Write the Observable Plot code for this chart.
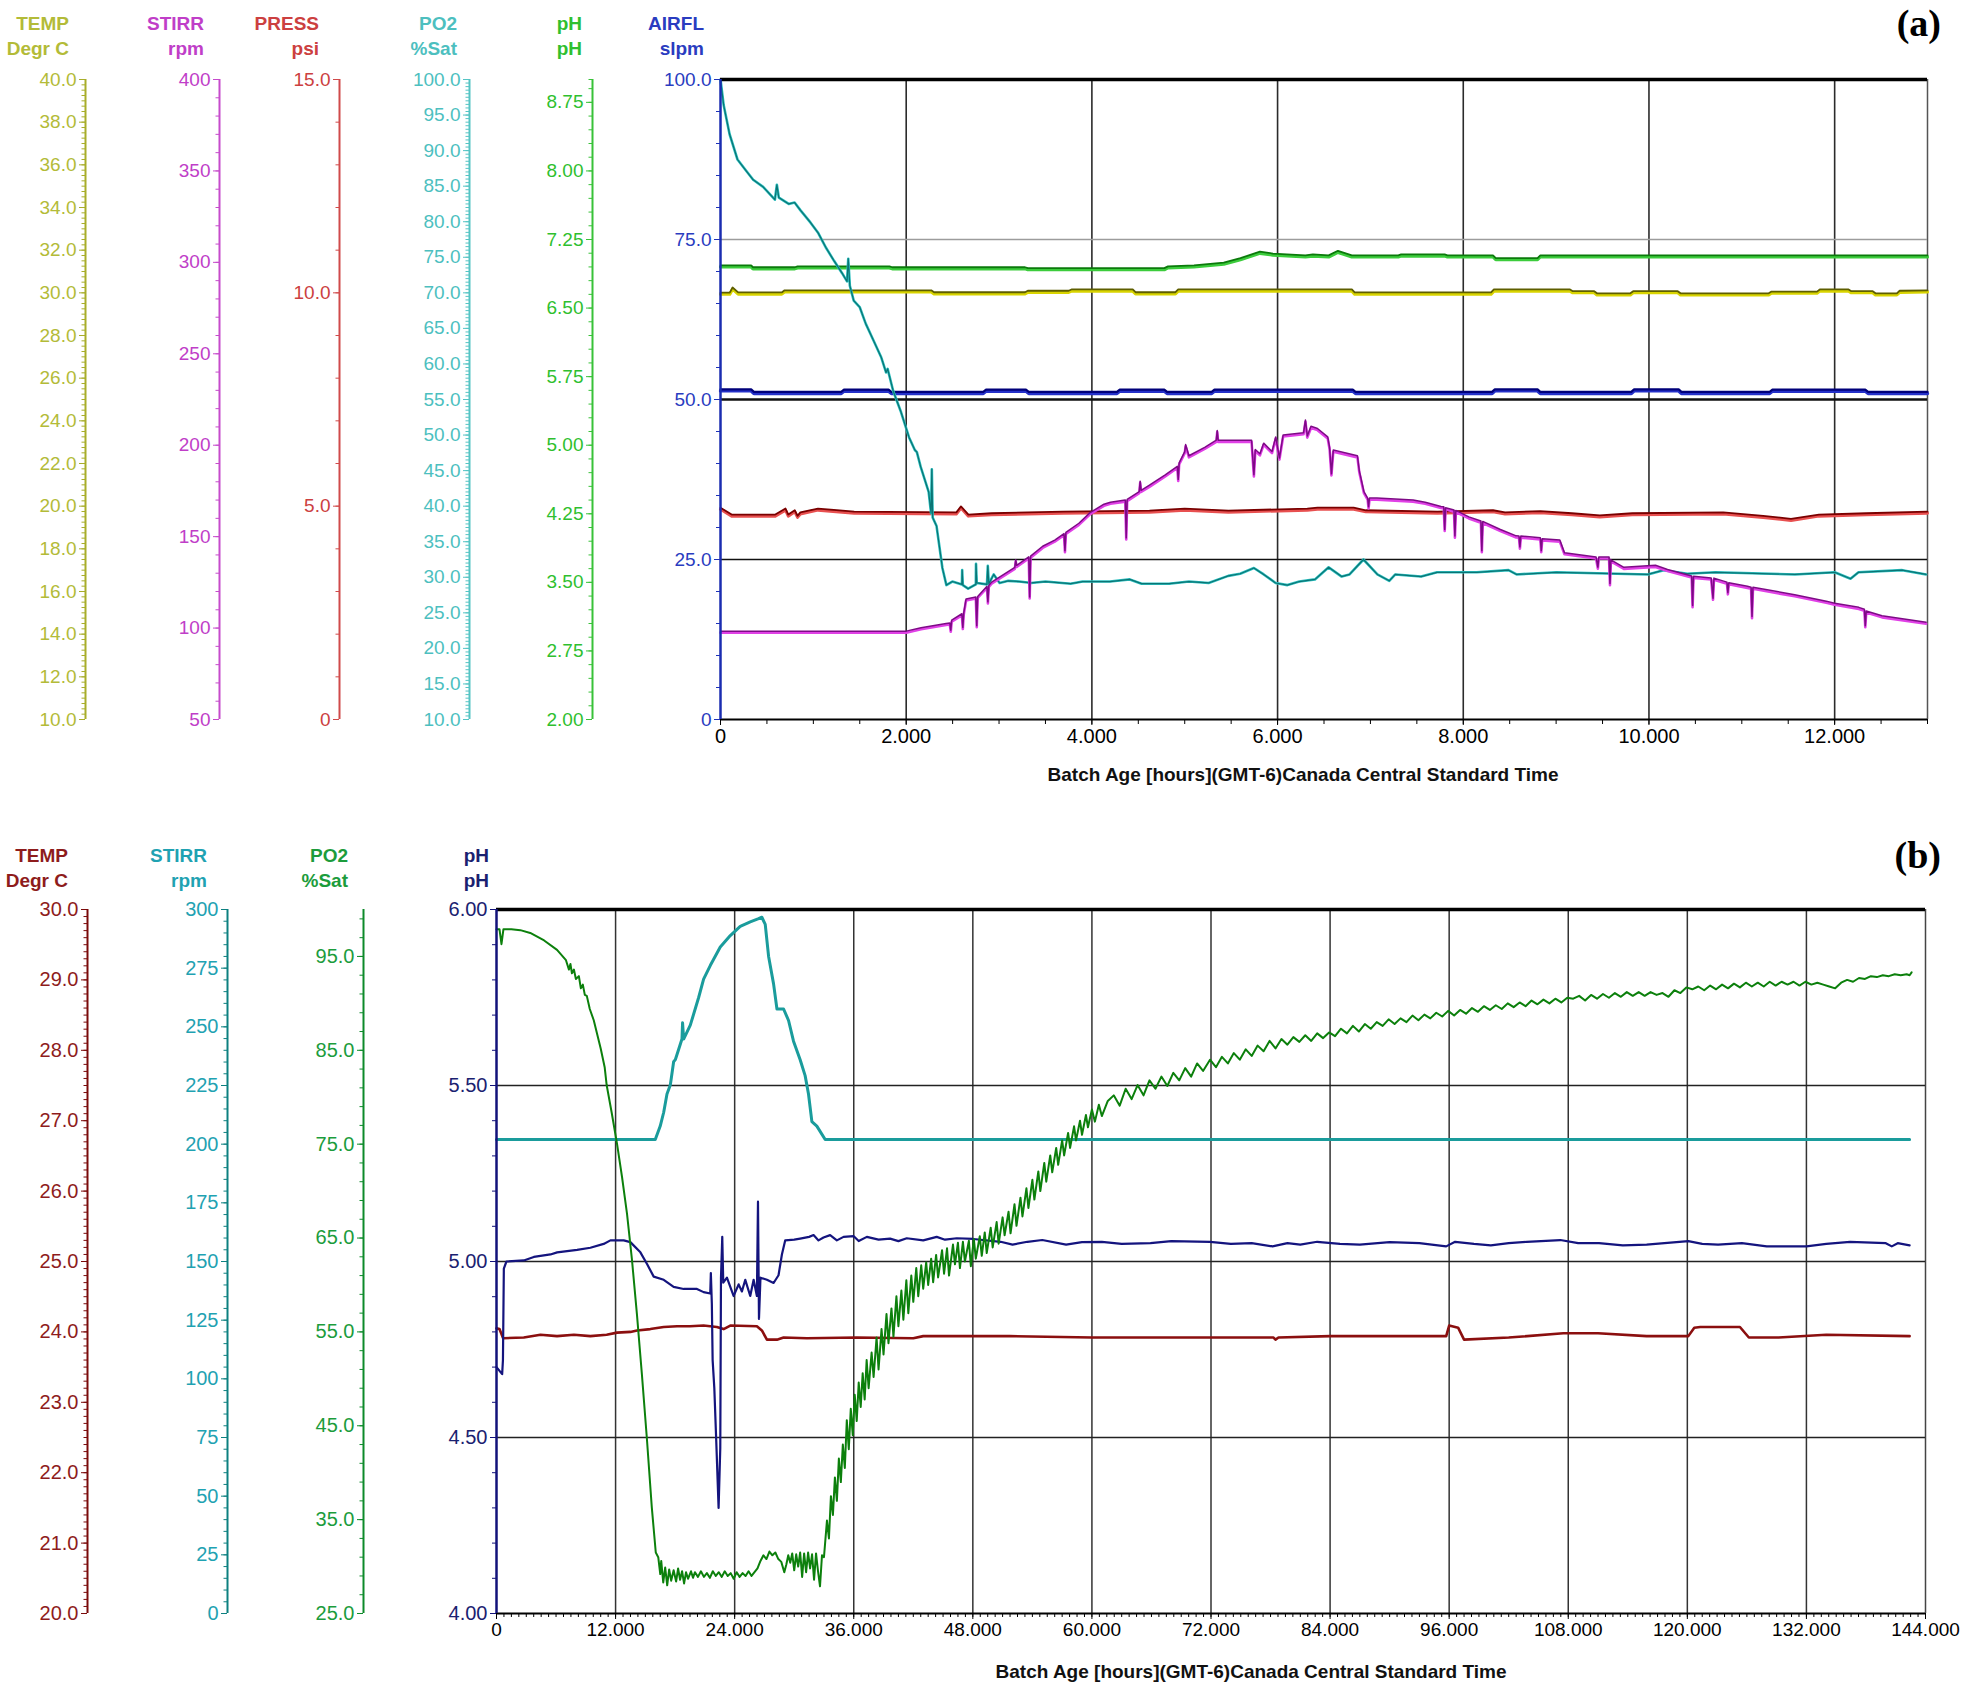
<!DOCTYPE html>
<html><head><meta charset="utf-8">
<script src="https://cdn.jsdelivr.net/npm/d3@7"></script>
<script src="https://cdn.jsdelivr.net/npm/@observablehq/plot@0.6"></script>
<style>
body{margin:0;background:#fff;}
#root{position:relative;width:1963px;height:1691px;background:#fff;overflow:hidden;font-family:"Liberation Sans",Arial,sans-serif;}
.t{position:absolute;white-space:nowrap;line-height:1;}
</style></head><body><div id="root"></div>
<script>
// ---------------- DATA : panel (a), time in hours ----------------
const a_PH = [[0,6.96],[0.33,6.96],[0.35,6.94],[0.8,6.94],[0.83,6.95],[1.82,6.95],[1.85,6.94],[3.28,6.94],[3.31,6.93],[4.78,6.93],[4.82,6.95],[5.1,6.96],[5.42,6.99],[5.6,7.04],[5.81,7.11],[5.95,7.09],[6.3,7.07],[6.38,7.08],[6.55,7.07],[6.65,7.12],[6.8,7.07],[7.3,7.07],[7.33,7.08],[7.8,7.08],[7.83,7.07],[8.32,7.07],[8.35,7.04],[8.8,7.04],[8.83,7.07],[13,7.07]];
const a_TEMP = [[0,29.98],[0.1,29.98],[0.13,30.22],[0.19,29.99],[0.66,29.99],[0.69,30.09],[2.27,30.09],[2.3,30.0],[3.28,30.0],[3.31,30.07],[3.75,30.07],[3.78,30.13],[4.44,30.13],[4.47,30.0],[4.9,30.0],[4.93,30.13],[6.8,30.13],[6.83,29.99],[8.3,29.99],[8.33,30.13],[9.15,30.13],[9.18,30.05],[9.41,30.05],[9.44,29.95],[9.8,29.95],[9.83,30.05],[10.31,30.05],[10.34,29.95],[11.29,29.95],[11.32,30.03],[11.81,30.03],[11.84,30.13],[12.15,30.13],[12.18,30.05],[12.41,30.05],[12.44,29.95],[12.67,29.95],[12.7,30.07],[13,30.09]];
const a_AIRFL = [[0,51.5],[0.33,51.5],[0.36,51.1],[1.3,51.1],[1.33,51.45],[1.81,51.45],[1.84,51.1],[2.83,51.1],[2.86,51.45],[3.29,51.45],[3.32,51.1],[4.27,51.1],[4.3,51.45],[4.78,51.45],[4.81,51.1],[5.29,51.1],[5.32,51.45],[6.81,51.45],[6.84,51.1],[8.31,51.1],[8.34,51.5],[8.8,51.5],[8.83,51.1],[9.81,51.1],[9.84,51.5],[10.32,51.5],[10.35,51.1],[11.3,51.1],[11.33,51.45],[12.33,51.45],[12.36,51.1],[13,51.1]];
const a_PRESS = [[0,4.95],[0.12,4.79],[0.59,4.79],[0.7,4.93],[0.73,4.79],[0.8,4.89],[0.83,4.76],[0.86,4.84],[1.05,4.93],[1.44,4.86],[2.54,4.84],[2.59,4.98],[2.67,4.79],[2.92,4.82],[3.69,4.86],[4.62,4.88],[5.0,4.93],[5.47,4.88],[6.32,4.93],[6.43,4.95],[6.82,4.95],[6.95,4.89],[7.72,4.86],[8.32,4.89],[8.45,4.84],[8.83,4.87],[9.17,4.82],[9.47,4.77],[9.82,4.82],[10.8,4.84],[11.23,4.76],[11.53,4.69],[11.83,4.79],[12.34,4.82],[13,4.86]];
const a_PO2 = [[0,100],[0.034,96.4],[0.098,92.3],[0.183,88.75],[0.268,87.3],[0.352,85.9],[0.459,84.9],[0.586,83.1],[0.607,85.2],[0.628,83.4],[0.735,82.5],[0.798,82.7],[0.862,81.6],[0.968,79.9],[1.053,78.4],[1.138,76.3],[1.223,74.5],[1.308,72.8],[1.363,71.6],[1.376,74.8],[1.393,71.0],[1.435,68.9],[1.499,68.0],[1.563,65.7],[1.648,63.3],[1.732,60.9],[1.783,58.8],[1.8,59.3],[1.86,56.2],[1.945,53.2],[2.03,49.7],[2.093,47.9],[2.115,47.6],[2.157,45.5],[2.242,42.0],[2.268,39.0],[2.276,45.2],[2.285,38.4],[2.327,37.2],[2.39,31.3],[2.433,28.9],[2.497,29.4],[2.6,29.0],[2.603,31.0],[2.61,28.9],[2.667,28.4],[2.75,29.0],[2.752,31.9],[2.76,29.2],[2.87,29.0],[2.879,31.6],[2.89,29.1],[2.943,30.4],[3.006,29.2],[3.1,29.5],[3.219,29.4],[3.346,29.2],[3.5,29.4],[3.771,29.1],[3.9,29.4],[4.195,29.4],[4.408,29.7],[4.535,29.1],[4.832,29.1],[5.045,29.4],[5.257,29.2],[5.469,30.2],[5.597,30.5],[5.745,31.3],[5.851,30.4],[5.979,29.2],[6.106,28.9],[6.234,29.4],[6.403,29.7],[6.55,31.4],[6.69,30.1],[6.775,30.4],[6.925,32.5],[7.075,30.4],[7.203,29.5],[7.268,30.4],[7.546,30.1],[7.717,30.7],[8.146,30.7],[8.488,31.0],[8.574,30.4],[9.002,30.7],[9.987,30.4],[10.158,31.0],[10.415,30.5],[10.715,30.7],[11.572,30.4],[12.0,30.7],[12.171,29.8],[12.257,30.7],[12.728,31.0],[12.985,30.4]];
const a_STIRR = [[0,98],[2.0,98],[2.16,99.9],[2.43,102.2],[2.47,102.5],[2.48,98.5],[2.49,104],[2.6,107.5],[2.61,100],[2.62,108],[2.645,115.6],[2.75,116.7],[2.76,101],[2.77,117],[2.87,122.5],[2.88,114],[2.89,123],[2.92,124.8],[3.17,132.9],[3.18,137],[3.19,134],[3.32,138.6],[3.33,116.7],[3.34,139],[3.47,144.4],[3.6,147.8],[3.7,151.3],[3.71,142],[3.72,152],[3.86,157],[3.98,162.8],[4.13,167.4],[4.2,168.5],[4.36,169.7],[4.37,149],[4.38,170],[4.51,174.3],[4.52,180],[4.53,175],[4.62,177.8],[4.79,183.5],[4.92,188.1],[4.93,181],[4.94,190],[5.0,196.2],[5.01,200],[5.045,193.9],[5.215,198.5],[5.34,202.4],[5.35,207.7],[5.36,202.4],[5.72,202.4],[5.745,183.5],[5.76,197.3],[5.81,195],[5.85,200.8],[5.94,196.2],[5.98,204.2],[6.02,192.7],[6.06,205.3],[6.28,206.5],[6.3,213.4],[6.32,204.7],[6.36,210],[6.43,208.8],[6.54,204.2],[6.56,198.5],[6.58,184],[6.6,197],[6.86,193.9],[6.88,185.8],[6.93,174.3],[6.97,170.8],[6.98,166],[6.99,170.8],[7.07,170.8],[7.46,169.7],[7.59,168.5],[7.76,166.2],[7.79,166],[7.8,153.6],[7.81,165.5],[7.9,164.2],[7.91,150],[7.92,164],[8.06,160.5],[8.19,158.2],[8.2,142],[8.21,158],[8.4,153.6],[8.57,150.1],[8.6,150],[8.61,144],[8.62,150],[8.83,149],[8.84,142],[8.85,148.5],[9.04,147.8],[9.09,140.9],[9.43,138.6],[9.45,133],[9.46,138.6],[9.57,138.6],[9.58,124],[9.59,137],[9.73,132.9],[10.07,134],[10.2,131.7],[10.46,128.2],[10.47,112],[10.48,128],[10.67,127.1],[10.69,116],[10.7,127],[10.84,124.8],[10.85,119],[10.86,124.5],[11.06,122.5],[11.1,122],[11.11,106],[11.12,122],[11.57,117.9],[11.91,114.4],[12.0,113.3],[12.26,111],[12.32,110],[12.33,101],[12.34,109],[12.51,106.4],[12.985,102.9]];

// ---------------- DATA : panel (b), time in hours ----------------
const b_PO2 = [[0,97.9],[0.3,97.9],[0.5,96.3],[0.7,97.9],[1.5,97.9],[2.4,97.8],[3.4,97.5],[4.8,96.7],[6.1,95.7],[7.0,94.6],[7.3,93.6],[7.45,94.2],[7.6,93.2],[7.8,93.6],[8.0,92.6],[8.3,92.9],[8.5,91.6],[8.7,92.0],[8.9,90.9],[9.1,90.8],[9.4,89.4],[9.8,88.2],[10.5,85.2],[10.9,83.2],[11.1,81.3],[11.6,78.4],[12.15,75.0],[12.65,71.5],[13.15,67.6],[13.65,62.7],[14.15,56.9],[14.65,50.5],[15.15,43.7],[15.65,36.3],[16.05,31.5],
[16.3,31.0],[16.5,29.2],[16.6,30.6],[16.8,28.3],[17.0,29.9],[17.2,28.0],[17.4,29.7],[17.6,28.5],[17.85,29.6],[18.1,28.4],[18.3,29.8],[18.5,28.6],[18.7,29.5],[18.9,28.2],[19.1,29.4],[19.3,28.7],[19.6,29.5],[19.8,28.8],[20.0,29.4],[20.3,28.9],[20.6,29.5],[20.9,28.9],[21.2,29.3],[21.5,28.8],[21.8,29.5],[22.1,29.0],[22.4,29.4],[22.7,28.9],[23.0,29.5],[23.3,29.0],[23.6,29.3],[23.9,28.7],[24.2,29.4],[24.5,28.9],[24.8,29.3],[25.1,29.0],[25.4,29.5],[25.7,29.0],[26.0,29.4],[26.3,29.8],[26.6,30.6],[26.9,31.2],[27.2,30.8],[27.5,31.6],[27.8,31.2],[28.1,31.5],[28.4,30.8],[28.7,30.5],[29.0,29.4],[29.2,30.2],[29.4,31.2],[29.6,30.4],[29.8,31.4],[30.0,29.6],[30.2,31.3],[30.4,30.0],[30.6,31.5],[30.8,28.9],[31.0,31.4],[31.2,29.4],[31.4,31.5],[31.6,29.8],[31.8,31.3],[32.0,28.6],[32.2,31.4],[32.4,29.5],[32.6,27.9],[32.8,31.2],[33.0,31.0],
[33.3,34.9],[33.5,33.0],[33.7,37.5],[33.9,35.5],[34.1,39.5],[34.3,37.0],[34.5,41.5],[34.7,39.0],[34.9,43.0],[35.1,40.5],[35.3,45.6],[35.5,42.5],[35.7,46.8],[35.9,44.0],[36.1,48.3],[36.3,45.5],[36.5,49.6],[36.7,47.0],[36.9,50.6],[37.1,47.8],[37.3,52.0],[37.5,49.0],[37.8,52.8],[38.0,50.2],[38.3,54.4],[38.5,51.0],[38.8,55.3],[39.0,52.6],[39.3,56.9],[39.5,53.8],[39.8,57.5],[40.0,54.5],[40.3,58.8],[40.5,55.6],[40.8,59.4],[41.0,56.3],[41.3,60.5],[41.5,57.0],[41.8,61.0],[42.0,58.2],[42.3,61.8],[42.5,58.8],[42.8,62.1],[43.0,59.6],[43.3,62.4],[43.5,60.0],[43.8,62.8],[44.0,60.3],[44.3,63.2],[44.5,60.8],[44.9,63.7],[45.1,61.2],[45.4,63.9],[45.6,61.0],[46.0,64.3],[46.2,62.2],[46.5,64.5],[46.7,61.8],[47.0,64.6],[47.2,62.5],[47.6,64.7],[47.8,62.0],[48.1,64.9],[48.3,62.8],[48.7,65.2],[48.9,63.1],[49.2,65.6],[49.4,63.4],[49.8,66.1],[50.0,64.0],[50.4,66.7],[50.6,64.4],[51.0,67.2],[51.2,65.3],[51.6,67.8],[51.8,65.5],[52.2,68.6],[52.4,66.3],[52.8,69.3],[53.0,67.3],[53.4,70.3],[53.6,68.2],[54.0,71.2],[54.2,69.1],[54.6,72.1],[54.8,70.0],[55.2,73.0],[55.4,71.0],[55.8,73.8],[56.0,72.0],[56.4,74.6],[56.6,72.8],[57.0,75.4],[57.2,73.8],[57.6,76.2],[57.8,74.6],[58.2,76.9],[58.4,75.4],[58.8,77.5],[59.0,76.0],[59.4,78.1],[59.6,76.8],[60.0,78.7],[60.3,77.4],[60.7,79.2],[61.0,78.0],
[61.6,79.6],[62.2,80.2],[62.8,79.1],[63.4,80.9],[64.0,79.8],[64.6,81.3],[65.2,80.2],[65.8,81.8],[66.4,80.9],[67.0,82.2],[67.6,81.2],[68.2,82.6],[68.8,81.8],[69.4,83.1],[70.0,82.2],[70.6,83.6],[71.2,82.8],[71.9,84.0],[72.5,83.2],[73.1,84.3],[73.7,83.6],[74.3,84.7],[74.9,84.0],[75.5,85.1],[76.1,84.4],[76.7,85.5],[77.3,84.9],[77.9,86.0],[78.5,85.2],[79.1,86.2],[79.7,85.6],[80.3,86.4],[80.9,85.9],[81.5,86.6],[82.1,86.0],[82.7,86.8],[83.3,86.3],[83.9,86.9],[84.5,86.5],[85.1,87.3],[85.7,86.8],[86.3,87.6],[86.9,87.0],[87.5,87.8],[88.1,87.3],[88.7,88.0],[89.3,87.6],[89.9,88.3],[90.5,87.8],[91.1,88.4],[91.7,88.0],[92.3,88.7],[92.9,88.2],[93.5,88.8],[94.1,88.4],[94.7,89.0],[95.3,88.6],[95.9,89.2],[96.5,88.7],[97.1,89.3],[97.7,88.9],[98.3,89.5],[98.9,89.1],[99.5,89.7],[100.1,89.3],[100.7,89.8],[101.3,89.4],[101.9,90.0],[102.5,89.6],[103.1,90.1],[103.7,89.7],[104.3,90.3],[104.9,89.9],[105.5,90.4],[106.1,90.0],[106.7,90.5],[107.3,90.1],[107.9,90.6],[108.5,90.5],[109.1,90.8],[109.7,90.3],[110.3,90.9],[110.9,90.5],[111.5,91.0],[112.1,90.6],[112.7,91.1],[113.3,90.7],[113.9,91.2],[114.5,90.8],[115.1,91.2],[115.7,90.8],[116.3,91.2],[116.9,90.9],[117.5,91.1],[118.1,90.7],[118.7,91.4],[119.3,91.1],[119.9,91.7],[120.5,91.5],[121.1,91.8],[121.7,91.4],[122.3,91.9],[122.9,91.5],[123.5,92.0],[124.1,91.6],[124.7,92.1],[125.3,91.7],[125.9,92.2],[126.5,91.8],[127.1,92.2],[127.7,91.8],[128.3,92.3],[128.9,91.9],[129.5,92.3],[130.1,92.0],[130.7,92.3],[131.3,91.9],[131.9,92.3],[132.5,92.0],[133.1,92.2],[133.7,92.0],[134.3,91.8],[134.9,91.6],[135.5,92.2],[136.1,92.5],[136.7,92.3],[137.3,92.7],[137.9,92.6],[138.5,92.9],[139.1,92.8],[139.7,93.0],[140.3,92.9],[140.9,93.1],[141.5,93.0],[142.1,93.1],[142.4,93.0],[142.6,93.3]];
const b_STIRR = [[0,202],[16.0,202],[16.5,207.7],[16.85,213.6],[17.18,221.4],[17.52,225.3],[17.85,235.1],[18.02,236],[18.69,244.8],[18.75,251.7],[18.86,244.8],[19.53,250.7],[20.37,262.5],[20.87,270.3],[21.54,276.1],[22.55,284],[23.56,288.9],[24.56,292.8],[25.57,294.7],[26.41,296.1],[26.74,296.7],[27.08,293.7],[27.42,280],[27.92,268.3],[28.26,257.6],[28.93,257.6],[29.43,252.7],[29.93,243.9],[30.6,236],[31.1,229.2],[31.44,221.4],[31.78,209.6],[32.28,207.7],[33.12,202],[142.4,202]];
const b_PH = [[0,4.70],[0.57,4.68],[0.65,4.72],[0.74,4.98],[1.0,5.0],[2.75,5.003],[3.76,5.013],[5.44,5.02],[6.11,5.026],[8.12,5.033],[9.46,5.039],[10.8,5.05],[11.48,5.06],[12.82,5.06],[13.49,5.055],[14.5,5.026],[15.17,4.993],[15.84,4.957],[16.85,4.948],[17.85,4.928],[18.86,4.922],[20.2,4.922],[20.87,4.913],[21.54,4.909],[21.6,4.967],[21.7,4.88],[21.78,4.72],[21.95,4.64],[22.15,4.485],[22.38,4.30],[22.55,4.47],[22.62,4.954],[22.75,5.07],[22.85,4.94],[23.22,4.954],[23.89,4.902],[24.4,4.935],[24.73,4.915],[25.07,4.948],[25.57,4.902],[25.91,4.948],[26.24,4.902],[26.35,5.17],[26.45,4.837],[26.6,4.954],[27.25,4.948],[27.92,4.939],[28.42,4.961],[28.76,5.02],[29.09,5.06],[30.0,5.062],[30.6,5.065],[31.5,5.07],[31.95,5.075],[32.45,5.06],[32.95,5.068],[33.62,5.075],[34.3,5.06],[34.97,5.07],[36.0,5.072],[36.5,5.058],[37.32,5.07],[38.5,5.062],[39.66,5.065],[40.5,5.058],[41.34,5.066],[43.0,5.06],[44.36,5.07],[45.2,5.062],[46.38,5.066],[48.05,5.064],[50.8,5.056],[52.0,5.048],[53.5,5.056],[55.0,5.061],[57.4,5.048],[59.0,5.055],[61.0,5.056],[63.0,5.05],[65.9,5.052],[68.0,5.058],[71.9,5.056],[74.0,5.05],[76.1,5.052],[78.2,5.043],[79.7,5.052],[81.0,5.048],[82.7,5.056],[85.0,5.05],[87.0,5.048],[90.0,5.055],[93.0,5.052],[95.7,5.043],[96.6,5.056],[98.5,5.05],[100.2,5.046],[102.0,5.052],[103.8,5.056],[107.2,5.061],[109.0,5.052],[111.1,5.052],[113.5,5.046],[115.9,5.048],[120.1,5.058],[121.5,5.05],[123.1,5.048],[125.5,5.052],[128.0,5.043],[132.0,5.043],[134.0,5.05],[136.4,5.056],[140.0,5.052],[140.6,5.043],[141.2,5.052],[142.4,5.046]];
const b_TEMP = [[0,24.05],[0.3,24.04],[0.67,23.91],[2.75,23.92],[4.43,23.96],[6.1,23.94],[7.8,23.96],[9.46,23.94],[11.1,23.96],[12.15,23.99],[13.5,24.0],[14.16,24.02],[15.5,24.04],[16.85,24.07],[18.2,24.08],[19.5,24.08],[20.87,24.09],[22.2,24.07],[22.89,24.04],[23.56,24.09],[26.24,24.08],[26.74,24.02],[27.25,23.89],[28.26,23.89],[28.93,23.92],[31.28,23.91],[36.3,23.92],[42.0,23.91],[43.0,23.94],[51.7,23.94],[60,23.92],[71.9,23.92],[78.3,23.92],[78.5,23.89],[78.8,23.92],[84,23.94],[95.7,23.94],[96.0,24.09],[96.9,24.06],[97.5,23.89],[102,23.92],[107.5,23.98],[111,23.98],[115.9,23.94],[120.1,23.94],[120.7,24.06],[121.3,24.07],[125.3,24.07],[126.2,23.92],[129.2,23.92],[134,23.96],[142.4,23.94]];

// ---------------- AXES / TICKS ----------------
const aX = {domain:[0,13], majors:[0,2,4,6,8,10,12], minors:d3.range(0,13.01,0.5)};
const bX = {domain:[0,144], majors:[0,12,24,36,48,60,72,84,96,108,120,132,144], minors:d3.range(0,144.01,0.75)};
const aAxes = {
  TEMP:{domain:[10,40], majors:d3.range(10,40.01,2), minors:d3.range(10,40.01,0.25)},
  STIRR:{domain:[50,400], majors:[50,100,150,200,250,300,350,400], minors:d3.range(50,400.1,10)},
  PRESS:{domain:[0,15], majors:[0,5,10,15], minors:d3.range(0,15.01,1)},
  PO2:{domain:[10,100], majors:d3.range(10,100.1,5), minors:d3.range(10,100.01,0.5)},
  pH:{domain:[2,9], majors:[2,2.75,3.5,4.25,5,5.75,6.5,7.25,8,8.75], minors:d3.range(2,8.95,0.15).concat([9])},
  AIRFL:{domain:[0,100], majors:[0,25,50,75,100], minors:d3.range(0,100.1,5)}
};
const bAxes = {
  TEMP:{domain:[20,30], majors:d3.range(20,30.01,1), minors:d3.range(20,30.001,0.1)},
  STIRR:{domain:[0,300], majors:d3.range(0,300.1,25), minors:d3.range(0,300.1,5)},
  PO2:{domain:[25,100], majors:[25,35,45,55,65,75,85,95], minors:d3.range(25,99.1,2)},
  pH:{domain:[4,6], majors:[4,4.5,5,5.5,6], minors:d3.range(4,6.001,0.1)}
};

const root = document.getElementById("root");
const FONT = '"Liberation Sans", Arial, sans-serif';
function place(el, left, top){ el.style.position="absolute"; el.style.left=left+"px"; el.style.top=top+"px"; root.appendChild(el); }
function label(text, x, baseline, size, color, opts={}){
  const d=document.createElement("div"); d.className="t"; d.textContent=text;
  d.style.fontSize=size+"px"; d.style.color=color; d.style.fontWeight=opts.bold===false?"normal":"bold";
  d.style.fontFamily=opts.family||FONT;
  const top = baseline - 0.8465*size;
  d.style.top=top+"px"; d.style.left=x+"px";
  d.style.transform = opts.align==="center" ? "translateX(-50%)" : (opts.align==="left" ? "none" : "translateX(-100%)");
  root.appendChild(d);
}
const f1 = d => d===0 ? "0" : d.toFixed(1);
const f1z = d => d.toFixed(1);
const f2 = d => d.toFixed(2);
const fi = d => String(Math.round(d));
const fX = d => d===0 ? "0" : d.toFixed(3);

function sideAxis(c){
  const mt=15, mb=15;
  const svg = Plot.plot({
    width:110, height:(c.bottom-c.top)+mt+mb,
    marginLeft:100, marginRight:9, marginTop:mt, marginBottom:mb,
    x:{domain:[0,1], axis:null}, y:{domain:c.ax.domain, axis:null},
    style:{background:"transparent", fontFamily:FONT, fontSize:c.fs+"px", overflow:"visible", maxWidth:"none"},
    marks:[
      Plot.ruleX([0], {stroke:c.line, strokeWidth:2}),
      Plot.axisY(c.ax.minors, {anchor:"left", tickSize:3.5, tickFormat:()=>"", stroke:c.line, label:null}),
      Plot.axisY(c.ax.majors, {anchor:"left", tickSize:6, tickPadding:3, tickFormat:c.fmt, stroke:c.line, fill:c.color, fontSize:c.fs, label:null})
    ]
  });
  place(svg, c.x-100, c.top-mt);
  label(c.t1, c.tx, c.tb1, c.tfs, c.color);
  label(c.t2, c.tx, c.tb2, c.tfs, c.color);
}

// ---------------- PANEL (a) ----------------
const A = {left:720, right:1927, top:79, bottom:719};
const aCol = {TEMP:"#b3bb38", STIRR:"#c03ec8", PRESS:"#cc4040", PO2:"#4dbfbf", pH:"#2fbf2f", AIRFL:"#2a3cc0"};
const aLine = {TEMP:"#a8ad2a", STIRR:"#c64bcc", PRESS:"#d04a4a", PO2:"#55c4c4", pH:"#38c238", AIRFL:"#1e32b8"};
[["TEMP",85,f1z,"TEMP","Degr C",69],["STIRR",219,fi,"STIRR","rpm",204],["PRESS",339,f1,"PRESS","psi",319],["PO2",469,f1z,"PO2","%Sat",457],["pH",592,f2,"pH","pH",582]].forEach(([k,x,fmt,t1,t2,tx])=>{
  sideAxis({x, top:A.top, bottom:A.bottom, ax:aAxes[k], fmt, color:aCol[k], line:aLine[k], fs:19, t1, t2, tx, tb1:30, tb2:55, tfs:19});
});
label("AIRFL", 704, 30, 19, aCol.AIRFL);
label("slpm", 704, 55, 19, aCol.AIRFL);

const toA = dom => d3.scaleLinear().domain(dom).range([0,100]);
const sA = {TEMP:toA(aAxes.TEMP.domain), STIRR:toA(aAxes.STIRR.domain), PRESS:toA(aAxes.PRESS.domain), PO2:toA(aAxes.PO2.domain), pH:toA(aAxes.pH.domain), AIRFL:toA(aAxes.AIRFL.domain)};
function twoTone(data, s, light, dark, wl, wd){
  return [
    Plot.line(data, {x:d=>d[0], y:d=>s(d[1]), stroke:light, strokeWidth:wl, dy:1}),
    Plot.line(data, {x:d=>d[0], y:d=>s(d[1]), stroke:dark, strokeWidth:wd, dy:-0.6})
  ];
}
const aMain = Plot.plot({
  width:(A.right-A.left)+110, height:(A.bottom-A.top)+50,
  marginLeft:80, marginRight:30, marginTop:10, marginBottom:40,
  x:{domain:aX.domain, axis:null}, y:{domain:[0,100], axis:null},
  style:{background:"transparent", fontFamily:FONT, fontSize:"19px", overflow:"visible", maxWidth:"none"},
  marks:[
    Plot.ruleX([2,4,6,8,10,12], {stroke:"#2b2b2b", strokeWidth:1.6}),
    Plot.ruleX([13], {stroke:"#555", strokeWidth:1.5}),
    Plot.ruleY([75], {stroke:"#9c9c9c", strokeWidth:1.6}),
    Plot.ruleY([50], {stroke:"#111", strokeWidth:2.6}),
    Plot.ruleY([25], {stroke:"#111", strokeWidth:1.6}),
    ...twoTone(a_TEMP, sA.TEMP, "#d9d400", "#5e5e00", 3.2, 1.8),
    ...twoTone(a_PH, sA.pH, "#3ccc3c", "#0b7a0b", 3.2, 1.8),
    ...twoTone(a_AIRFL, sA.AIRFL, "#2430c8", "#00007a", 3.4, 2.2),
    ...twoTone(a_PRESS, sA.PRESS, "#e85050", "#7a0000", 3.0, 1.8),
    Plot.line(a_PO2, {x:d=>d[0], y:d=>sA.PO2(d[1]), stroke:"#2bbfbf", strokeWidth:2.6}),
    Plot.line(a_PO2, {x:d=>d[0], y:d=>sA.PO2(d[1]), stroke:"#0a7474", strokeWidth:1.2}),
    ...twoTone(a_STIRR, sA.STIRR, "#e040e6", "#7e0a86", 2.6, 1.5),
    Plot.ruleY([100], {stroke:"#000", strokeWidth:3.5}),
    Plot.ruleY([0], {stroke:"#000", strokeWidth:2}),
    Plot.ruleX([0], {stroke:"#1a2cb0", strokeWidth:2.5}),
    Plot.axisY(aAxes.AIRFL.minors, {anchor:"left", tickSize:4, tickFormat:()=>"", stroke:aLine.AIRFL, label:null}),
    Plot.axisY(aAxes.AIRFL.majors, {anchor:"left", tickSize:6, tickPadding:3, tickFormat:f1, stroke:aLine.AIRFL, fill:aCol.AIRFL, fontSize:19, label:null}),
    Plot.axisX(aX.minors, {anchor:"bottom", tickSize:5, tickFormat:()=>"", stroke:"#000", label:null}),
    Plot.axisX(aX.majors, {anchor:"bottom", tickSize:6, tickPadding:3, tickFormat:fX, stroke:"#000", fill:"#000", fontSize:20, label:null})
  ]
});
place(aMain, A.left-80, A.top-10);
label("Batch Age [hours](GMT-6)Canada Central Standard Time", 1303, 781, 19, "#111", {align:"center"});
label("(a)", 1941, 36, 38, "#000", {family:'"Liberation Serif", "Times New Roman", serif'});

// ---------------- PANEL (b) ----------------
const B = {left:496, right:1925, top:909, bottom:1613};
const bCol = {TEMP:"#8e1c1c", STIRR:"#1fa2b2", PO2:"#1c9c3c", pH:"#1a2170"};
const bLine = {TEMP:"#7a0a0a", STIRR:"#0d8080", PO2:"#0d8a2a", pH:"#12127a"};
[["TEMP",87,f1z,"TEMP","Degr C",68],["STIRR",227,fi,"STIRR","rpm",207],["PO2",363,f1z,"PO2","%Sat",348]].forEach(([k,x,fmt,t1,t2,tx])=>{
  sideAxis({x, top:B.top, bottom:B.bottom, ax:bAxes[k], fmt, color:bCol[k], line:bLine[k], fs:20, t1, t2, tx, tb1:862, tb2:887, tfs:19});
});
label("pH", 489, 862, 19, bCol.pH);
label("pH", 489, 887, 19, bCol.pH);

const toB = dom => d3.scaleLinear().domain(dom).range([4,6]);
const sB = {TEMP:toB(bAxes.TEMP.domain), STIRR:toB(bAxes.STIRR.domain), PO2:toB(bAxes.PO2.domain), pH:toB(bAxes.pH.domain)};
const bMain = Plot.plot({
  width:(B.right-B.left)+108, height:(B.bottom-B.top)+50,
  marginLeft:70, marginRight:38, marginTop:10, marginBottom:40,
  x:{domain:bX.domain, axis:null}, y:{domain:[4,6], axis:null},
  style:{background:"transparent", fontFamily:FONT, fontSize:"19px", overflow:"visible", maxWidth:"none"},
  marks:[
    Plot.ruleX([12,24,36,48,60,72,84,96,108,120,132], {stroke:"#333", strokeWidth:1.5}),
    Plot.ruleX([144], {stroke:"#444", strokeWidth:1.5}),
    Plot.ruleY([4.5,5,5.5], {stroke:"#222", strokeWidth:1.4}),
    Plot.line(b_TEMP, {x:d=>d[0], y:d=>sB.TEMP(d[1]), stroke:"#8b0f0f", strokeWidth:2.6}),
    Plot.line(b_PH, {x:d=>d[0], y:d=>sB.pH(d[1]), stroke:"#14147e", strokeWidth:2.2}),
    Plot.line(b_STIRR, {x:d=>d[0], y:d=>sB.STIRR(d[1]), stroke:"#1a9c9c", strokeWidth:3}),
    Plot.line(b_PO2, {x:d=>d[0], y:d=>sB.PO2(d[1]), stroke:"#0c800c", strokeWidth:2}),
    Plot.ruleY([6], {stroke:"#000", strokeWidth:3.5}),
    Plot.ruleY([4], {stroke:"#000", strokeWidth:2}),
    Plot.ruleX([0], {stroke:"#12127a", strokeWidth:2.5}),
    Plot.axisY(bAxes.pH.minors, {anchor:"left", tickSize:4, tickFormat:()=>"", stroke:bLine.pH, label:null}),
    Plot.axisY(bAxes.pH.majors, {anchor:"left", tickSize:6, tickPadding:3, tickFormat:f2, stroke:bLine.pH, fill:bCol.pH, fontSize:20, label:null}),
    Plot.axisX(bX.minors, {anchor:"bottom", tickSize:4, tickFormat:()=>"", stroke:"#000", label:null}),
    Plot.axisX(bX.majors, {anchor:"bottom", tickSize:6, tickPadding:3, tickFormat:fX, stroke:"#000", fill:"#000", fontSize:19, label:null})
  ]
});
place(bMain, B.left-70, B.top-10);
label("Batch Age [hours](GMT-6)Canada Central Standard Time", 1251, 1678, 19, "#111", {align:"center"});
label("(b)", 1941, 868, 38, "#000", {family:'"Liberation Serif", "Times New Roman", serif'});
</script></body></html>
